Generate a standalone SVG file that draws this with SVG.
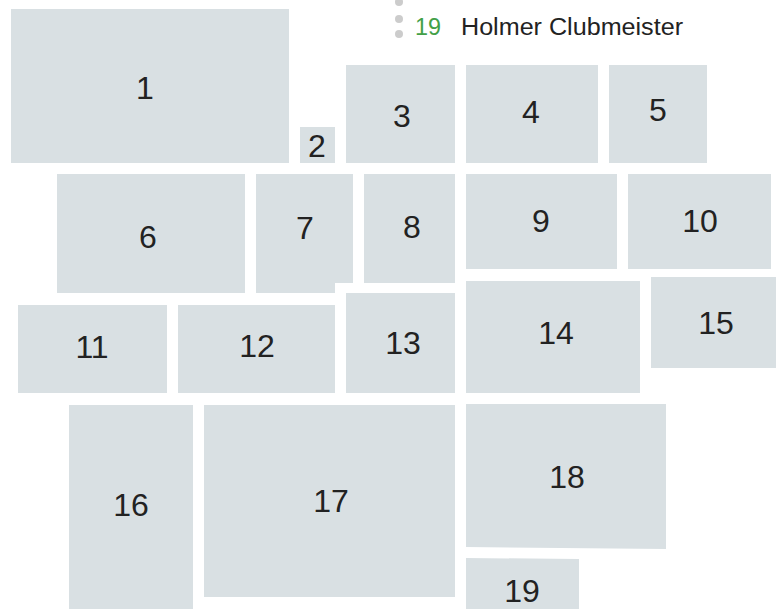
<svg xmlns="http://www.w3.org/2000/svg" width="779" height="609" viewBox="0 0 779 609">
<style>
.b{fill:#d9e0e3}
.t{font-family:"Liberation Sans",Arial,sans-serif;font-size:32px;fill:#222;text-anchor:middle}
.lg{font-family:"Liberation Sans",Arial,sans-serif;font-size:23px}
.d{fill:#cccccc}
</style>
<rect width="779" height="609" fill="#ffffff"/>
<g id="legend">
<circle class="d" cx="399" cy="2" r="4"/>
<circle class="d" cx="399" cy="19" r="4"/>
<circle class="d" cx="399" cy="34" r="4"/>
<text class="lg" x="415" y="35" fill="#43a047" textLength="26" lengthAdjust="spacingAndGlyphs">19</text>
<text class="lg" x="461" y="35" fill="#222" textLength="222" lengthAdjust="spacingAndGlyphs">Holmer Clubmeister</text>
</g>
<g id="n1"><rect class="b" x="11" y="9" width="278" height="154"/><text class="t" x="145" y="99">1</text></g>
<g id="n2"><rect class="b" x="300" y="127" width="35" height="36"/><text class="t" x="317" y="157">2</text></g>
<g id="n3"><rect class="b" x="346" y="65" width="109" height="98"/><text class="t" x="402" y="127">3</text></g>
<g id="n4"><rect class="b" x="466" y="65" width="132" height="98"/><text class="t" x="531" y="123">4</text></g>
<g id="n5"><rect class="b" x="609" y="65" width="98" height="98"/><text class="t" x="658" y="121">5</text></g>
<g id="n6"><rect class="b" x="57" y="174" width="188" height="119"/><text class="t" x="148" y="248">6</text></g>
<g id="n7"><polygon class="b" points="256,174 353,174 353,283 335,283 335,293 256,293"/><text class="t" x="305" y="239">7</text></g>
<g id="n8"><rect class="b" x="364" y="174" width="91" height="109"/><text class="t" x="412" y="238">8</text></g>
<g id="n9"><rect class="b" x="466" y="174" width="151" height="95"/><text class="t" x="541" y="232">9</text></g>
<g id="n10"><rect class="b" x="628" y="174" width="143" height="95"/><text class="t" x="700" y="232">10</text></g>
<g id="n11"><rect class="b" x="18" y="305" width="149" height="88"/><text class="t" x="92" y="358">11</text></g>
<g id="n12"><rect class="b" x="178" y="305" width="157" height="88"/><text class="t" x="257" y="357">12</text></g>
<g id="n13"><rect class="b" x="346" y="293" width="109" height="100"/><text class="t" x="403" y="354">13</text></g>
<g id="n14"><rect class="b" x="466" y="281" width="174" height="112"/><text class="t" x="556" y="344">14</text></g>
<g id="n15"><rect class="b" x="651" y="277" width="125" height="91"/><text class="t" x="716" y="334">15</text></g>
<g id="n16"><rect class="b" x="69" y="405" width="124" height="204"/><text class="t" x="131" y="516">16</text></g>
<g id="n17"><rect class="b" x="204" y="405" width="251" height="192"/><text class="t" x="331" y="512">17</text></g>
<g id="n18"><polygon class="b" points="466,404 666,404 666,549 466,547"/><text class="t" x="567" y="488">18</text></g>
<g id="n19"><polygon class="b" points="466,558 579,559 579,609 466,609"/><text class="t" x="522" y="602">19</text></g>
<g id="connectors"/>
</svg>
